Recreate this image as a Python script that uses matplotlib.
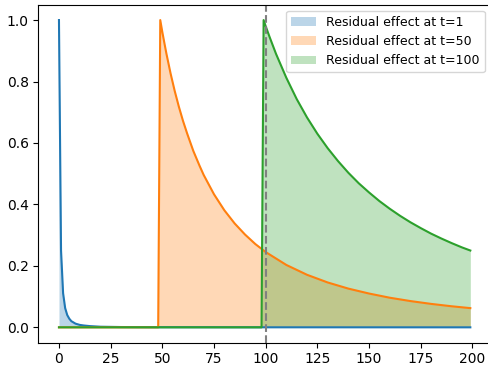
import numpy as np
import matplotlib
matplotlib.use("Agg")
import matplotlib.pyplot as plt

# Residual effect started at t=1 (index 0)
x_blue = [0, 1, 2, 3, 4, 5, 6, 8, 10, 12, 15, 20, 30, 50, 100, 150, 199]
y_blue = [1.0, 0.25, 0.111, 0.0625, 0.04, 0.028, 0.020, 0.012, 0.008, 0.006,
          0.004, 0.002, 0.001, 0.0004, 0.0001, 0.00005, 0.0]

# Residual effect started at t=50 (index 49)
x_orange = [0, 48, 49, 50, 51, 52, 54, 56, 58, 60, 62, 65, 68, 70, 75, 80,
            85, 90, 95, 100, 110, 120, 130, 140, 150, 160, 170, 180, 190, 199]
y_orange = [0.0, 0.0, 1.0, 0.961, 0.925, 0.890, 0.826, 0.769, 0.718, 0.672,
            0.631, 0.574, 0.526, 0.496, 0.433, 0.381, 0.338, 0.302, 0.271,
            0.245, 0.203, 0.171, 0.146, 0.126, 0.110, 0.0964, 0.0855,
            0.0763, 0.0685, 0.0625]

# Residual effect started at t=100 (index 99)
x_green = [0, 98, 99, 100, 102, 105, 110, 115, 120, 125, 130, 135, 140, 145,
           150, 155, 160, 165, 170, 175, 180, 185, 190, 195, 199]
y_green = [0.0, 0.0, 1.0, 0.980, 0.943, 0.890, 0.812, 0.743, 0.683, 0.630,
           0.583, 0.541, 0.503, 0.469, 0.439, 0.411, 0.386, 0.363, 0.342,
           0.323, 0.305, 0.289, 0.274, 0.260, 0.25]

labels = ["Residual effect at t=1", "Residual effect at t=50",
          "Residual effect at t=100"]

fig = plt.figure(figsize=(4.89, 3.65), dpi=100)
ax = fig.add_axes([38.4 / 489, 22.3 / 365, (490.9 - 38.4) / 489, 338 / 365])

series = [(x_blue, y_blue), (x_orange, y_orange), (x_green, y_green)]
for i, ((xs, ys), lab) in enumerate(zip(series, labels)):
    c = f"C{i}"
    ax.plot(xs, ys, color=c)
    ax.fill_between(xs, ys, color=c, alpha=0.3, label=lab, linewidth=0)

ax.axvline(100, color="gray", linestyle="--")
ax.set_xticks([0, 25, 50, 75, 100, 125, 150, 175, 200])
ax.legend(loc="upper right", fontsize=9)

fig.savefig("out.png", dpi=100)
